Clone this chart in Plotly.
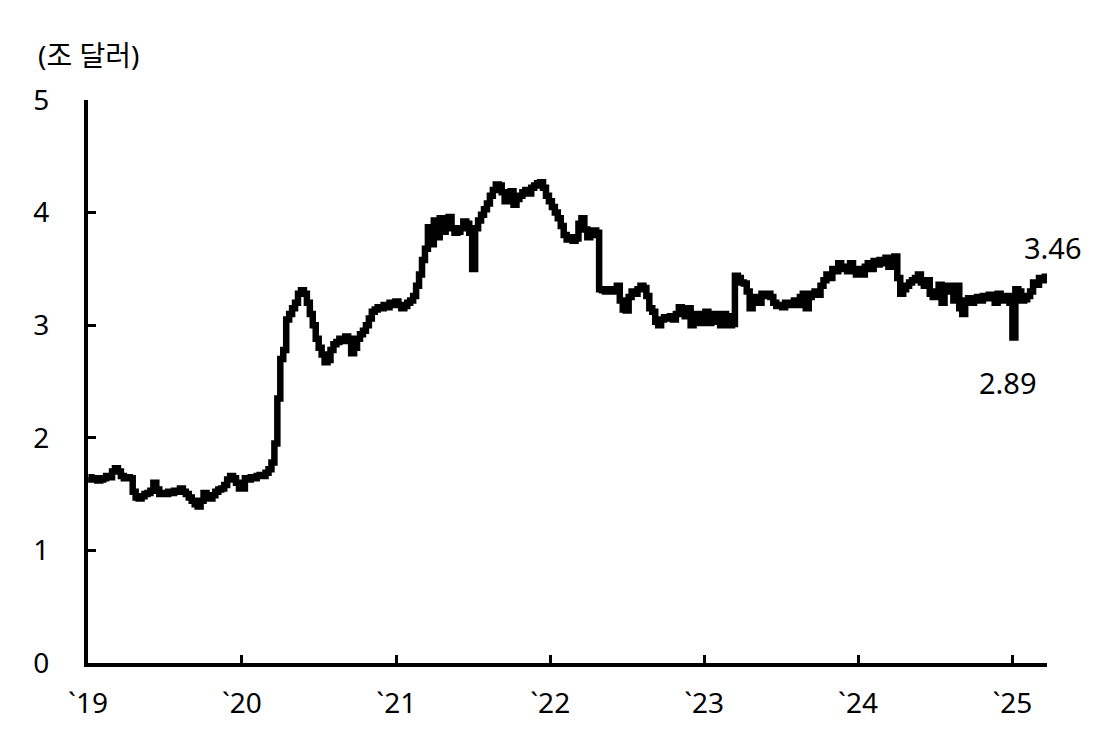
import pandas as pd
import plotly.graph_objects as go

# Weekly reserve balances (trillion USD)
vals_2019 = [1.65, 1.63, 1.64, 1.62, 1.63,
             1.64, 1.66, 1.65,
             1.70, 1.73, 1.70,
             1.66, 1.64, 1.65, 1.64,
             1.52, 1.47,
             1.46, 1.48, 1.50, 1.51, 1.53,
             1.60, 1.54,
             1.50, 1.51, 1.50, 1.52, 1.51, 1.53, 1.52,
             1.55, 1.52,
             1.50, 1.47, 1.44, 1.41,
             1.39,
             1.44, 1.51, 1.48,
             1.46, 1.49, 1.52,
             1.54, 1.55, 1.58,
             1.63, 1.66, 1.64,
             1.60, 1.55]
vals_2020 = [1.55, 1.64, 1.63, 1.65, 1.64, 1.66, 1.67, 1.66, 1.69, 1.72,
             1.78, 1.95, 2.35, 2.70,
             2.78, 3.05,
             3.10, 3.15, 3.20,
             3.28, 3.31, 3.28,
             3.20, 3.10, 3.00,
             2.88, 2.80, 2.74,
             2.67, 2.69,
             2.78, 2.83,
             2.85, 2.88, 2.86, 2.90, 2.88,
             2.75, 2.80,
             2.88, 2.92, 2.95,
             3.00, 3.06, 3.12,
             3.14, 3.16, 3.15,
             3.18, 3.16, 3.20, 3.18, 3.21]
vals_2021 = [3.18, 3.15, 3.17,
             3.20, 3.22, 3.26,
             3.35, 3.45,
             3.58, 3.68,
             3.87,
             3.72, 3.93, 3.78,
             3.95, 3.83,
             3.90, 3.96, 3.86,
             3.82, 3.83, 3.86,
             3.92, 3.90,
             3.82, 3.50,
             3.86,
             3.93, 3.98, 4.03, 4.08,
             4.15, 4.20, 4.25, 4.24,
             4.18, 4.10, 4.14,
             4.19, 4.07, 4.12,
             4.15, 4.18, 4.20, 4.17, 4.22,
             4.24, 4.26,
             4.27, 4.22, 4.15, 4.10]
vals_2022 = [4.05, 4.00,
             3.95, 3.88,
             3.80, 3.76, 3.78, 3.75, 3.77,
             3.90, 3.95,
             3.85, 3.78, 3.80,
             3.84, 3.82,
             3.32,
             3.31, 3.30, 3.32, 3.30, 3.31,
             3.35,
             3.22, 3.14, 3.13,
             3.25, 3.30, 3.28,
             3.32, 3.35, 3.33,
             3.26, 3.15,
             3.12, 3.03, 3.00,
             3.05, 3.07, 3.06, 3.08,
             3.05, 3.10,
             3.16, 3.12,
             3.08, 3.15, 3.00,
             3.03, 3.10, 3.02, 3.06]
vals_2023 = [3.12, 3.02, 3.04, 3.10, 3.03, 3.00, 3.10, 3.08, 3.00, 3.01,
             3.44,
             3.42, 3.38, 3.37, 3.30,
             3.15,
             3.22, 3.25, 3.20, 3.28, 3.26,
             3.28, 3.25,
             3.20, 3.17, 3.18, 3.16, 3.20, 3.18,
             3.20, 3.22, 3.18, 3.25,
             3.28, 3.15,
             3.25, 3.28, 3.30, 3.27,
             3.35, 3.40, 3.45,
             3.42, 3.50, 3.48,
             3.55, 3.50, 3.52, 3.48, 3.55, 3.50, 3.45]
vals_2024 = [3.50, 3.45, 3.52,
             3.55, 3.50, 3.57, 3.54, 3.58, 3.55,
             3.60, 3.52, 3.58,
             3.61, 3.42,
             3.28, 3.32,
             3.35, 3.38, 3.40, 3.42, 3.45,
             3.38, 3.35, 3.40,
             3.28, 3.25, 3.30,
             3.36, 3.20,
             3.30, 3.35, 3.33,
             3.22, 3.35,
             3.15, 3.10,
             3.22, 3.24, 3.20, 3.23, 3.25,
             3.22, 3.26, 3.24, 3.27,
             3.25, 3.20, 3.28, 3.22,
             3.24, 3.26, 3.20]
vals_2025 = [2.89, 3.32, 3.30, 3.22, 3.23, 3.26, 3.30, 3.38, 3.36, 3.42, 3.40, 3.46]

year_starts = ["2019-01-02", "2020-01-01", "2021-01-06", "2022-01-05",
               "2023-01-04", "2024-01-03", "2025-01-01"]
year_vals = [vals_2019, vals_2020, vals_2021, vals_2022, vals_2023, vals_2024, vals_2025]

tick_vals = ["2019-01-01", "2020-01-01", "2021-01-01", "2022-01-01",
             "2023-01-01", "2024-01-01", "2025-01-01"]
tick_text = ["`19", "`20", "`21", "`22", "`23", "`24", "`25"]
y_ticks = [0, 1, 2, 3, 4, 5]
y_title = "(조 달러)"

dates = []
values = []
for start, v in zip(year_starts, year_vals):
    dates.extend(pd.date_range(start, periods=len(v), freq="7D"))
    values.extend(v)

FONT = "Noto Sans, Noto Sans CJK KR, sans-serif"

fig = go.Figure()
fig.add_trace(go.Scatter(x=dates, y=values, mode="lines",
                         line=dict(color="black", width=6.5, shape="hv"),
                         showlegend=False, hoverinfo="skip"))

last_x, last_y = dates[-1], values[-1]
i_min = len(values) - len(vals_2025) + vals_2025.index(min(vals_2025))
min_x, min_y = dates[i_min], values[i_min]

fig.add_annotation(x=last_x, y=last_y, text=f"{last_y:.2f}", showarrow=False,
                   xshift=8, yshift=26, font=dict(size=29, color="black", family=FONT))
fig.add_annotation(x=min_x, y=min_y, text=f"{min_y:.2f}", showarrow=False,
                   xshift=-4, yshift=-45, font=dict(size=29, color="black", family=FONT))
fig.add_annotation(xref="paper", yref="paper", x=-0.054, y=1.0, xanchor="left",
                   yanchor="bottom", yshift=24, text=y_title, showarrow=False,
                   font=dict(size=28, color="black", family=FONT))

fig.update_layout(
    width=1099, height=733,
    margin=dict(l=80, r=60, t=92, b=78),
    plot_bgcolor="white", paper_bgcolor="white",
    font=dict(family=FONT, size=28, color="black"),
    xaxis=dict(type="date", range=["2019-01-01", "2025-03-24"],
               tickmode="array", tickvals=tick_vals, ticktext=tick_text,
               ticks="inside", ticklen=8, tickwidth=3, tickcolor="black",
               showline=True, linewidth=4, linecolor="black",
               tickfont=dict(size=28),
               showgrid=False, zeroline=False, ticklabelstandoff=12),
    yaxis=dict(range=[0, 5], tickmode="array", tickvals=y_ticks,
               ticks="inside", ticklen=8, tickwidth=3, tickcolor="black",
               showline=True, linewidth=4, linecolor="black",
               tickfont=dict(size=28),
               showgrid=False, zeroline=False, ticklabelstandoff=29),
)

fig.write_html("out.html")
